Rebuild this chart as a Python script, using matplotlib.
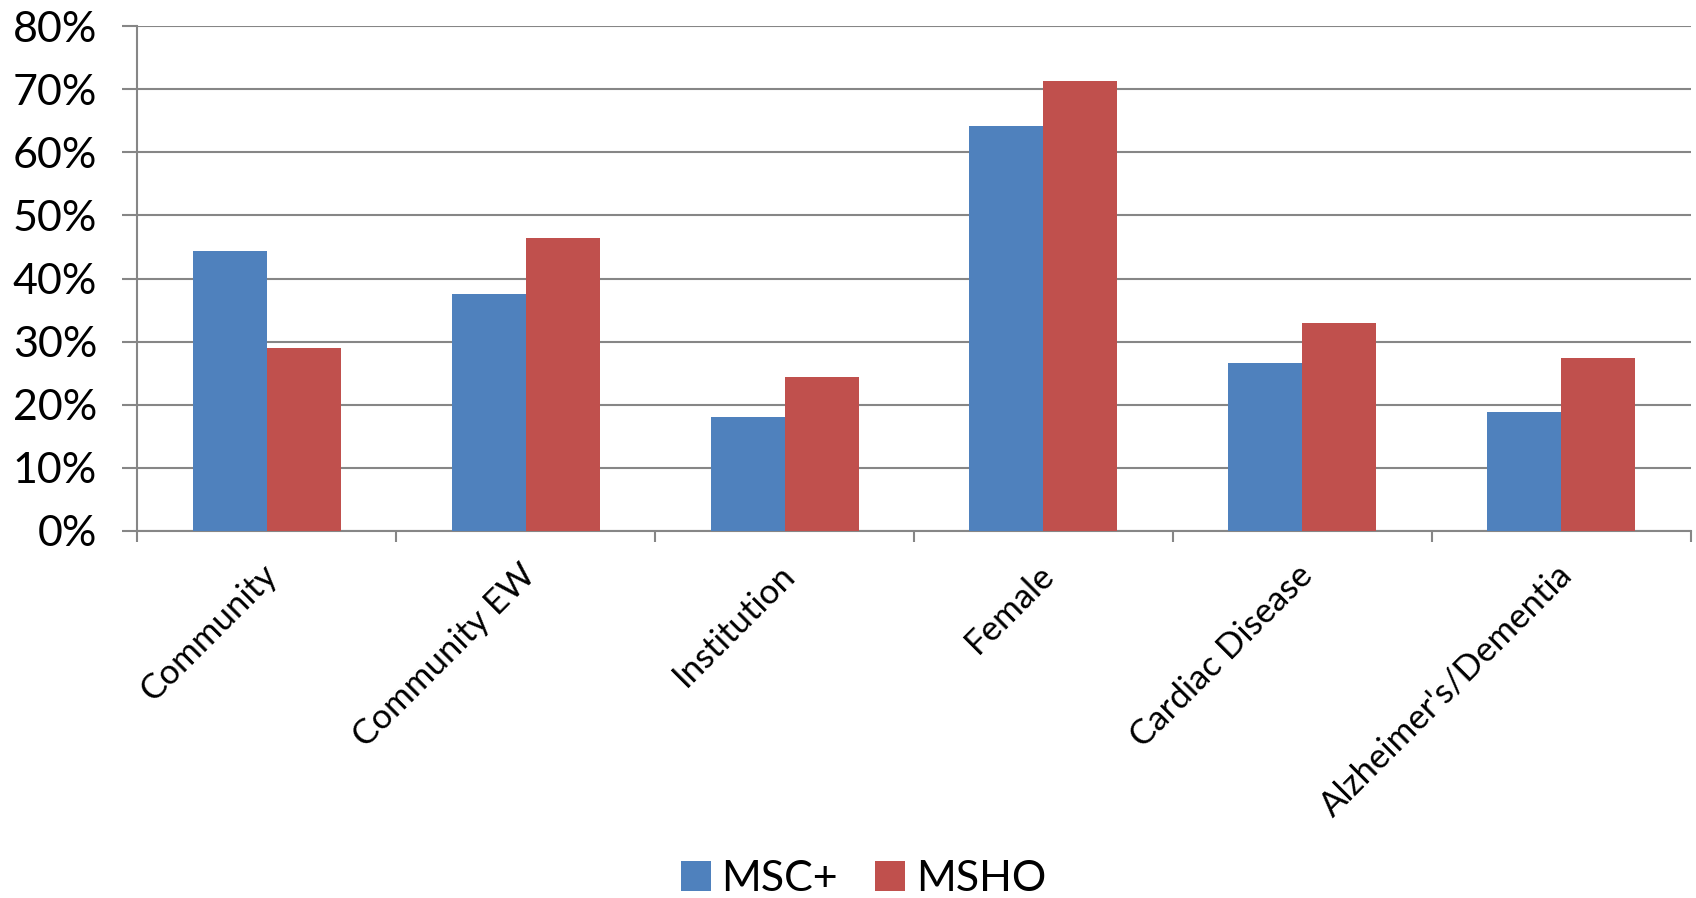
import matplotlib
matplotlib.use("Agg")
import matplotlib.pyplot as plt
import matplotlib.transforms as mtransforms
import numpy as np
from matplotlib.ticker import FuncFormatter, MultipleLocator

categories = ["Community", "Community EW", "Institution", "Female", "Cardiac Disease", "Alzheimer's/Dementia"]
msc_plus = [44.3, 37.5, 18.1, 64.2, 26.6, 18.8]
msho = [29.0, 46.4, 24.4, 71.3, 33.0, 27.4]
series_names = ["MSC+", "MSHO"]
colors = ["#4F81BD", "#C0504D"]

plt.rcParams['font.family'] = ['Lato', 'DejaVu Sans']

fig = plt.figure(figsize=(16.96, 8.98), dpi=100)
ax = fig.add_axes([0.081, 0.4087, 0.9158, 0.5623])

n = len(categories)
x = np.arange(n)
w = 1 / 3.5
ax.bar(x - w / 2, msc_plus, width=w, color=colors[0], label=series_names[0], zorder=3)
ax.bar(x + w / 2, msho, width=w, color=colors[1], label=series_names[1], zorder=3)

ax.set_xlim(-0.5, n - 0.5)
ax.set_ylim(0, 80)
ax.yaxis.set_major_locator(MultipleLocator(10))
ax.yaxis.set_major_formatter(FuncFormatter(lambda v, p: f"{int(round(v))}%"))
ax.grid(axis='y', color='#868686', linewidth=1.5, zorder=0)

grey = '#868686'
for s in ['top', 'right']:
    ax.spines[s].set_visible(False)
ax.spines['left'].set_color(grey)
ax.spines['bottom'].set_color(grey)
ax.spines['left'].set_linewidth(1.5)
ax.spines['bottom'].set_linewidth(1.5)

ax.tick_params(axis='y', length=11, width=1.5, color=grey, labelsize=31, pad=18)
ax.set_xticks(np.arange(-0.5, n, 1.0), minor=True)
ax.set_xticks(x)
ax.set_xticklabels(categories, rotation=45, ha='right', va='top', rotation_mode='anchor')
ax.tick_params(axis='x', which='major', length=0, labelsize=25, pad=20)
ax.tick_params(axis='x', which='minor', length=8, width=1.5, color=grey)
offset = mtransforms.ScaledTranslation(-6 / 100, 0, fig.dpi_scale_trans)
for lbl in ax.get_xticklabels():
    lbl.set_transform(lbl.get_transform() + offset)

fig.legend(loc='center', bbox_to_anchor=(0.509, 0.021), ncol=2, frameon=False,
           fontsize=31, handlelength=0.7, handleheight=0.7, handletextpad=0.25,
           columnspacing=0.85)

fig.savefig("out.png", dpi=100)
